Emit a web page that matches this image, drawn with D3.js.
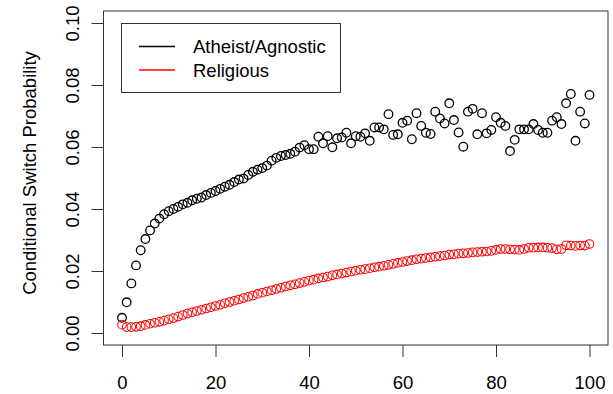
<!DOCTYPE html>
<html>
<head>
<meta charset="utf-8">
<script src="https://cdn.jsdelivr.net/npm/d3@7"></script>
<style>
  html, body { margin: 0; padding: 0; background: #fff; }
  svg { display: block; font-family: "Liberation Sans", Arial, Helvetica, sans-serif; }
</style>
</head>
<body>
<svg id="chart" width="613" height="394"></svg>
<script>
// Conditional switch probability by step, for two groups
const steps = d3.range(0, 101);

const atheist = [
  0.0049, 0.0099, 0.0160, 0.0218, 0.0267, 0.0303, 0.0331, 0.0353, 0.0369, 0.0383,
  0.0393, 0.0400, 0.0407, 0.0415, 0.0420, 0.0428, 0.0433, 0.0437, 0.0445, 0.0452,
  0.0458, 0.0465, 0.0472, 0.0478, 0.0487, 0.0495, 0.0498, 0.0510, 0.0520, 0.0527,
  0.0532, 0.0540, 0.0556, 0.0565, 0.0571, 0.0574, 0.0578, 0.0585, 0.0598, 0.0606,
  0.0593, 0.0593, 0.0633, 0.0612, 0.0635, 0.0599, 0.0628, 0.0631, 0.0646, 0.0612,
  0.0635, 0.0633, 0.0644, 0.0620, 0.0663, 0.0663, 0.0657, 0.0706, 0.0639, 0.0641,
  0.0678, 0.0685, 0.0625, 0.0709, 0.0668, 0.0646, 0.0642, 0.0714, 0.0692, 0.0676,
  0.0741, 0.0687, 0.0647, 0.0601, 0.0714, 0.0723, 0.0641, 0.0709, 0.0644, 0.0655,
  0.0696, 0.0678, 0.0668, 0.0587, 0.0623, 0.0657, 0.0657, 0.0657, 0.0674, 0.0655,
  0.0646, 0.0646, 0.0685, 0.0696, 0.0674, 0.0741, 0.0771, 0.0620, 0.0714, 0.0676,
  0.0768
];

const religious = [
  0.0027, 0.0019, 0.0019, 0.0020, 0.0022, 0.0026, 0.0030, 0.0033, 0.0036, 0.0040,
  0.0044, 0.0048, 0.0053, 0.0058, 0.0063, 0.0067, 0.0071, 0.0075, 0.0079, 0.0083,
  0.0087, 0.0091, 0.0096, 0.0100, 0.0104, 0.0108, 0.0113, 0.0117, 0.0121, 0.0126,
  0.0130, 0.0134, 0.0138, 0.0142, 0.0146, 0.0150, 0.0154, 0.0157, 0.0161, 0.0165,
  0.0169, 0.0172, 0.0176, 0.0179, 0.0182, 0.0186, 0.0189, 0.0192, 0.0195, 0.0198,
  0.0201, 0.0204, 0.0206, 0.0209, 0.0212, 0.0214, 0.0217, 0.0220, 0.0223, 0.0226,
  0.0229, 0.0232, 0.0235, 0.0238, 0.0240, 0.0242, 0.0244, 0.0246, 0.0248, 0.0250,
  0.0253, 0.0254, 0.0256, 0.0257, 0.0258, 0.0260, 0.0261, 0.0262, 0.0263, 0.0265,
  0.0268, 0.0271, 0.0271, 0.0270, 0.0269, 0.0268, 0.0271, 0.0275, 0.0275, 0.0276,
  0.0276, 0.0275, 0.0274, 0.0270, 0.0271, 0.0283, 0.0282, 0.0281, 0.0282, 0.0282,
  0.0287
];

const xTicks = [0, 20, 40, 60, 80, 100];
const yTicks = [0.00, 0.02, 0.04, 0.06, 0.08, 0.10];
const seriesNames = ["Atheist/Agnostic", "Religious"];
const seriesColors = ["#000000", "#ff0000"];
const seriesStroke = [1.3, 1.05];
const yTitle = "Conditional Switch Probability";

const svg = d3.select("#chart");

// plot frame (box) and data scales
const frame = { left: 103.5, right: 608, top: 11, bottom: 345 };
const x = d3.scaleLinear().domain([0, 100]).range([122, 589.5]);
const y = d3.scaleLinear().domain([0, 0.10]).range([333, 23]);

const axisColor = "#333";
const fontSize = 18.5;

// x axis
const xAxis = svg.append("g")
  .attr("transform", `translate(0,${frame.bottom})`)
  .call(d3.axisBottom(x).tickValues(xTicks).tickSize(12).tickPadding(19)
    .tickFormat(d3.format("d")));
xAxis.select(".domain").remove();
xAxis.selectAll(".tick line").attr("stroke", axisColor).attr("stroke-width", 1);
xAxis.selectAll(".tick text").attr("font-size", fontSize).attr("fill", "#000")
  .attr("font-family", "Liberation Sans, Arial, sans-serif");

// y axis with rotated labels
const yAxis = svg.append("g")
  .attr("transform", `translate(${frame.left},0)`)
  .call(d3.axisLeft(y).tickValues(yTicks).tickSize(12).tickFormat(d3.format(".2f")));
yAxis.select(".domain").remove();
yAxis.selectAll(".tick line").attr("stroke", axisColor).attr("stroke-width", 1);
yAxis.selectAll(".tick text")
  .attr("font-size", fontSize).attr("fill", "#000")
  .attr("font-family", "Liberation Sans, Arial, sans-serif")
  .attr("x", null)
  .attr("text-anchor", "middle")
  .attr("transform", "translate(-31,0) rotate(-90)")
  .attr("dy", "0.36em");

// y title
svg.append("text")
  .attr("transform", `translate(36,${(frame.top + frame.bottom) / 2 - 5}) rotate(-90)`)
  .attr("text-anchor", "middle")
  .attr("font-size", fontSize)
  .attr("fill", "#000")
  .text(yTitle);

// plot box
svg.append("rect")
  .attr("x", frame.left).attr("y", frame.top)
  .attr("width", frame.right - frame.left).attr("height", frame.bottom - frame.top)
  .attr("fill", "none").attr("stroke", axisColor).attr("stroke-width", 1);

// point series
const series = [atheist, religious];
series.forEach((vals, i) => {
  svg.append("g")
    .selectAll("circle")
    .data(steps)
    .join("circle")
    .attr("cx", d => x(d))
    .attr("cy", d => y(vals[d]))
    .attr("r", 4.3)
    .attr("fill", "none")
    .attr("stroke", seriesColors[i])
    .attr("stroke-width", seriesStroke[i]);
});

// legend
const legend = svg.append("g");
legend.append("rect")
  .attr("x", 121.5).attr("y", 23.5).attr("width", 219).attr("height", 69)
  .attr("fill", "#fff").attr("stroke", axisColor).attr("stroke-width", 1);
seriesNames.forEach((name, i) => {
  const ly = 46.5 + i * 23.5;
  legend.append("line")
    .attr("x1", 139).attr("x2", 175).attr("y1", ly).attr("y2", ly)
    .attr("stroke", seriesColors[i]).attr("stroke-width", 1.5);
  legend.append("text")
    .attr("x", 193).attr("y", ly).attr("dy", "0.36em")
    .attr("font-size", fontSize).attr("fill", "#000")
    .text(name);
});
</script>
</body>
</html>
